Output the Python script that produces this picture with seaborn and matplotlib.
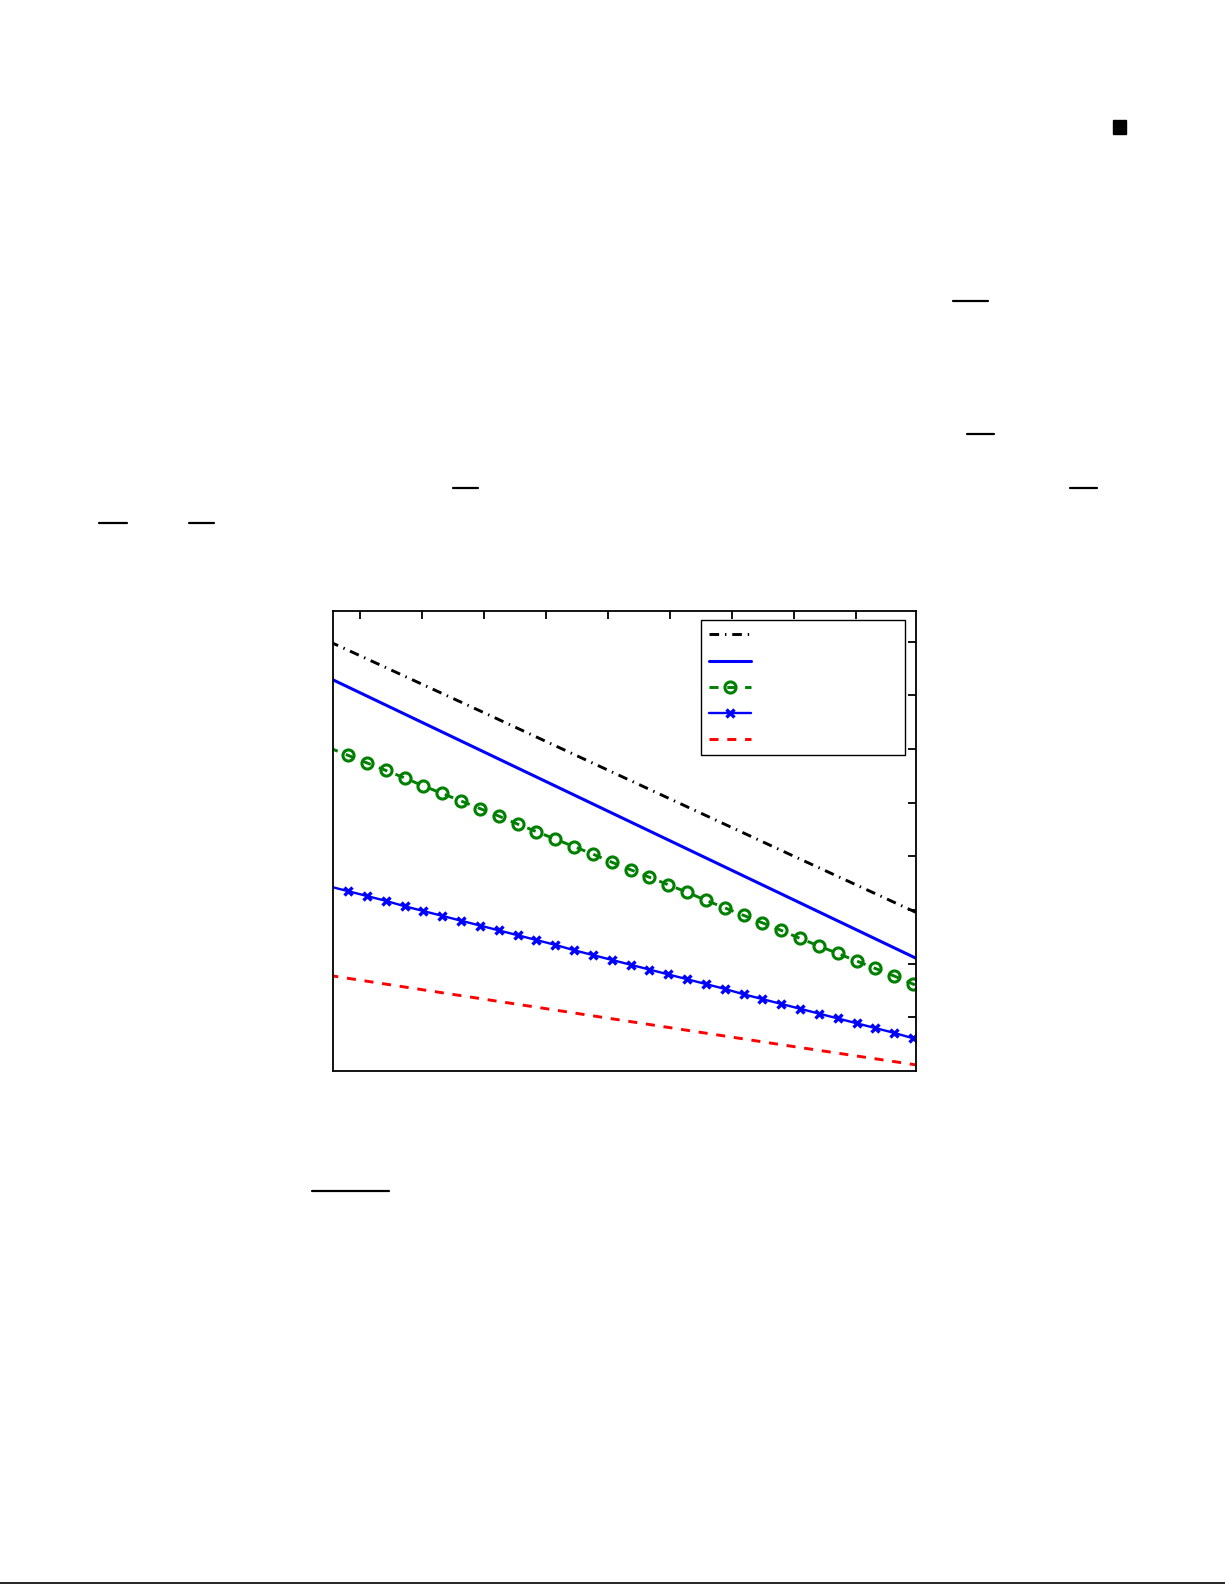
import numpy as np
import matplotlib
matplotlib.use("Agg")
import matplotlib.pyplot as plt
import seaborn as sns
from matplotlib.lines import Line2D
from matplotlib.patches import Rectangle

# ---------------------------------------------------------------
# Data (x in sample steps, y in tick units)
# ---------------------------------------------------------------
x_coarse = [0, 8, 16, 24, 32]
black_dashdot = [8.00, 6.71, 5.41, 4.11, 2.82]
blue_solid = [7.32, 5.98, 4.64, 3.30, 1.96]
red_dashed = [1.78, 1.35, 0.92, 0.49, 0.07]

x_fine = list(range(33))
green_circles = [6.02, 5.88, 5.74, 5.60, 5.46, 5.31, 5.17, 5.03, 4.89, 4.75,
                 4.60, 4.46, 4.32, 4.18, 4.04, 3.89, 3.75, 3.61, 3.47, 3.33,
                 3.18, 3.04, 2.90, 2.76, 2.62, 2.47, 2.33, 2.19, 2.05, 1.91,
                 1.77, 1.62, 1.48]
blue_crosses = [3.44, 3.35, 3.26, 3.17, 3.07, 2.98, 2.89, 2.80, 2.71, 2.62,
                2.53, 2.44, 2.35, 2.25, 2.16, 2.07, 1.98, 1.89, 1.80, 1.71,
                1.62, 1.53, 1.43, 1.34, 1.25, 1.16, 1.07, 0.98, 0.89, 0.80,
                0.71, 0.61, 0.52]

x_ticks = [1.65, 4.94, 8.23, 11.52, 14.81, 18.10, 21.39, 24.68, 27.97]
y_ticks = [1, 2, 3, 4, 5, 6, 7, 8]

# ---------------------------------------------------------------
# Figure (page-sized, plot in the middle)
# ---------------------------------------------------------------
W, H = 1225, 1585
sns.set_theme(style="white")
plt.rcParams["font.family"] = ["DejaVu Sans"]

fig = plt.figure(figsize=(W / 100, H / 100), dpi=100)
fig.patch.set_facecolor("white")
ax = fig.add_axes([333 / W, 1 - 1071 / H, 583 / W, 460 / H])
ax.set_facecolor("white")

sns.lineplot(x=x_coarse, y=black_dashdot, ax=ax, color="black", lw=2.1,
             linestyle=(0, (3.3, 2.0, 0.5, 2.0)), label="")
sns.lineplot(x=x_coarse, y=blue_solid, ax=ax, color="#0000ff", lw=2.2,
             label="")
sns.lineplot(x=x_fine, y=green_circles, ax=ax, color="#008000", lw=2.1,
             linestyle=(0, (3.1, 3.0)), marker="o", markersize=8,
             markerfacecolor="none", markeredgecolor="#008000",
             markeredgewidth=2.2, markevery=slice(1, 32), label="")
sns.lineplot(x=x_fine, y=blue_crosses, ax=ax, color="#0000ff", lw=1.7,
             marker="x", markersize=6, markeredgewidth=2.4,
             markeredgecolor="#0000ff", markevery=slice(1, 32), label="")
sns.lineplot(x=x_coarse, y=red_dashed, ax=ax, color="#ff0000", lw=2.1,
             linestyle=(0, (3.1, 3.0)), label="")

ax.set_xlim(0.195, 31.16)
ax.set_ylim(0, 8.57)
ax.set_xticks(x_ticks)
ax.set_yticks(y_ticks)
ax.tick_params(direction="in", length=5.5, width=1.3, top=True, right=True,
               labelbottom=False, labelleft=False, color="black")
for s in ax.spines.values():
    s.set_visible(True)
    s.set_color("black")
    s.set_linewidth(1.3)
ax.set_xlabel("")
ax.set_ylabel("")
ax.grid(False)

# legend, labels are empty in the reference
handles = ax.get_lines()[:5]
if ax.get_legend() is not None:
    ax.get_legend().remove()
x0 = (701 - 333) / 583
x1 = (905 - 333) / 583
y1 = (1071 - 620) / 460
y0 = (1071 - 754) / 460
leg = ax.legend(handles, [""] * 5, loc="upper left",
                bbox_to_anchor=(x0, y0, x1 - x0, y1 - y0), mode="expand",
                borderaxespad=0, fontsize=10, handlelength=3.0,
                handletextpad=0.0, labelspacing=0.87, borderpad=0.6,
                frameon=True, fancybox=False, framealpha=1, shadow=False)
leg.get_frame().set_edgecolor("black")
leg.get_frame().set_linewidth(1.0)

# page marks around the figure (text layer is blank in the reference)
overlines = [(953, 988, 301), (967, 994, 434), (453, 478, 488),
             (1070, 1097, 488), (99, 127, 523), (189, 214, 523),
             (312, 389, 1191)]
for a, b, y in overlines:
    fig.add_artist(Line2D([a / W, b / W], [1 - y / H, 1 - y / H],
                          transform=fig.transFigure, color="black", lw=1.6))
fig.add_artist(Rectangle((1113 / W, 1 - 134 / H), 13 / W, 14 / H,
                         transform=fig.transFigure, color="black"))
fig.add_artist(Line2D([0, 1], [1 - 1583 / H, 1 - 1583 / H],
                      transform=fig.transFigure, color="black", lw=1.2))

fig.savefig("out.png", dpi=100, facecolor="white")
plt.close(fig)
